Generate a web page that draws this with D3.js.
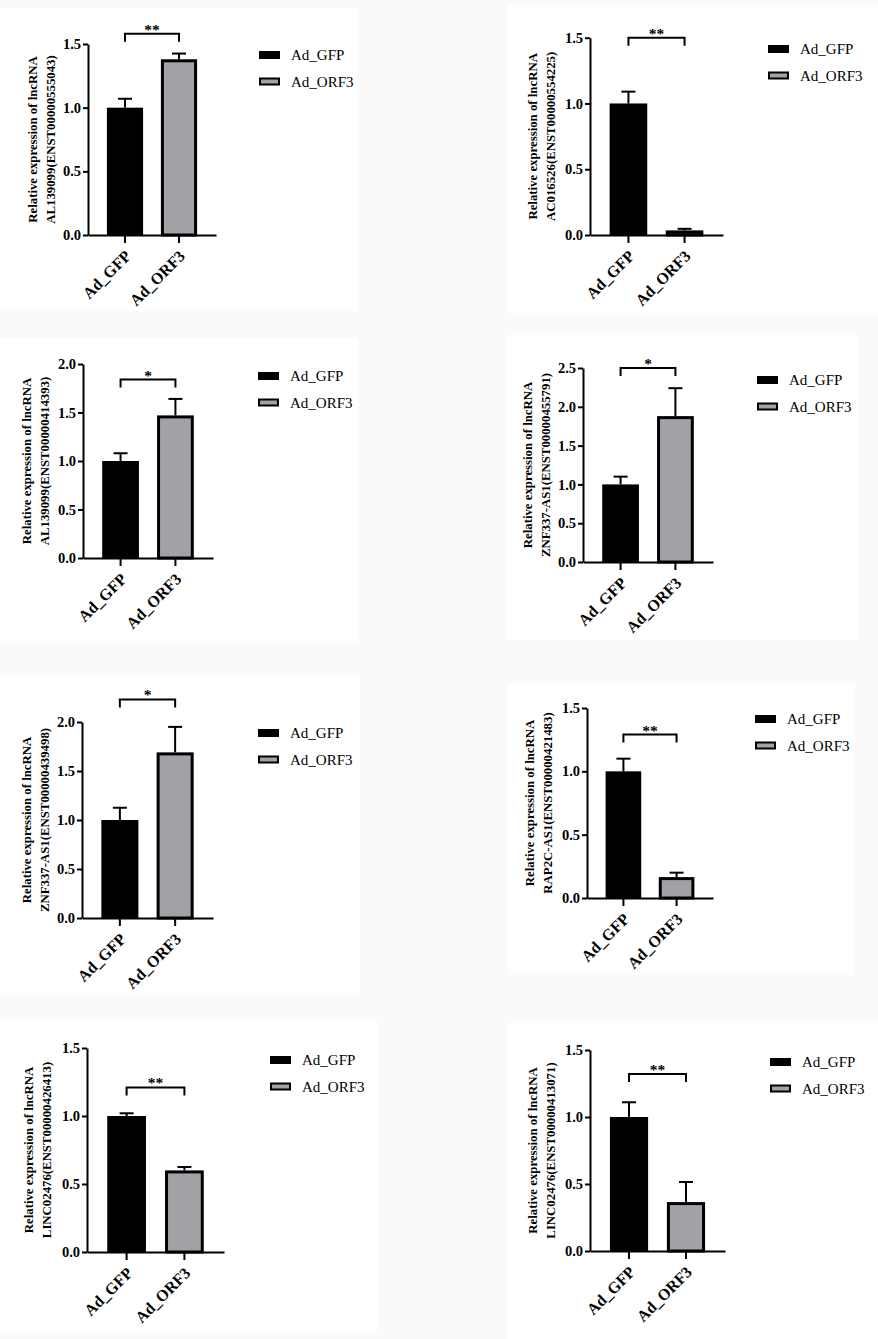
<!DOCTYPE html>
<html>
<head>
<meta charset="utf-8">
<script src="https://cdn.jsdelivr.net/npm/d3@7.9.0/dist/d3.min.js"></script>
<style>
  html, body { margin: 0; padding: 0; background: #fafafa; }
  svg { display: block; }
</style>
</head>
<body>
<svg id="fig" width="878" height="1339"></svg>
<script>
// data
const groups = ['Ad_GFP', 'Ad_ORF3'];
const genes = [
  'AL139099(ENST00000555043)', 'AC016526(ENST00000554225)',
  'AL139099(ENST00000414393)', 'ZNF337-AS1(ENST00000455791)',
  'ZNF337-AS1(ENST00000439498)', 'RAP2C-AS1(ENST00000421483)',
  'LINC02476(ENST00000426413)', 'LINC02476(ENST00000413071)'
];
const gfpMean = [1.0, 1.0, 1.0, 1.0, 1.0, 1.0, 1.0, 1.0];
const gfpErr  = [0.07, 0.09, 0.08, 0.10, 0.125, 0.10, 0.02, 0.11];
const orfMean = [1.38, 0.035, 1.47, 1.88, 1.69, 0.165, 0.60, 0.365];
const orfErr  = [0.045, 0.012, 0.17, 0.36, 0.26, 0.035, 0.025, 0.15];
const yMax    = [1.5, 1.5, 2.0, 2.5, 2.0, 1.5, 1.5, 1.5];
const yStep   = [0.5, 0.5, 0.5, 0.5, 0.5, 0.5, 0.5, 0.5];
const sigText = ['**', '**', '*', '*', '*', '**', '**', '**'];
const sigAt   = [1.58, 1.50, 1.84, 2.50, 2.23, 1.29, 1.21, 1.32];

// where each panel sits on the page
const layout = [
  { bg: [0, 8, 358, 303],    ox: 88,  top: 44,   bottom: 235,  right: 216, lx: 259, ly: 55,   lab: 33 },
  { bg: [508, 5, 370, 308],  ox: 590, top: 37.7, bottom: 235,  right: 723, lx: 768, ly: 49,   lab: 533 },
  { bg: [0, 338, 358, 305],  ox: 83,  top: 364,  bottom: 558,  right: 213, lx: 258, ly: 376,  lab: 27 },
  { bg: [505, 335, 353, 305], ox: 583, top: 368, bottom: 562,  right: 713, lx: 757, ly: 380,  lab: 528 },
  { bg: [0, 675, 360, 318],  ox: 82,  top: 722,  bottom: 918,  right: 213, lx: 258, ly: 733,  lab: 27 },
  { bg: [508, 683, 347, 292], ox: 587, top: 708, bottom: 898,  right: 713, lx: 755, ly: 719,  lab: 530 },
  { bg: [0, 1020, 377, 313], ox: 87,  top: 1048, bottom: 1252, right: 224, lx: 270, ly: 1060, lab: 29 },
  { bg: [508, 1023, 370, 316], ox: 590, top: 1050, bottom: 1251, right: 725, lx: 770, ly: 1062, lab: 533 }
];

const fills = ['#000000', '#a2a2a6'];
const serif = "'Liberation Serif', 'DejaVu Serif', 'Times New Roman', Times, serif";
const svg = d3.select('#fig');

genes.forEach((gene, i) => {
  const L = layout[i];
  const g = svg.append('g').attr('font-family', serif);

  g.append('rect')
    .attr('x', L.bg[0]).attr('y', L.bg[1])
    .attr('width', L.bg[2]).attr('height', L.bg[3])
    .attr('fill', '#ffffff');

  const x = d3.scaleBand().domain(groups).range([L.ox, L.right])
    .paddingInner(0.33).paddingOuter(0.35);
  const y = d3.scaleLinear().domain([0, yMax[i]]).range([L.bottom, L.top]);

  const means = [gfpMean[i], orfMean[i]];
  const errs = [gfpErr[i], orfErr[i]];

  // bars
  groups.forEach((grp, k) => {
    const bx = x(grp), bw = x.bandwidth();
    if (k === 0) {
      g.append('rect')
        .attr('x', bx).attr('y', y(means[k]))
        .attr('width', bw).attr('height', y(0) - y(means[k]))
        .attr('fill', fills[0]);
    } else {
      g.append('rect')
        .attr('x', bx + 1.5).attr('y', y(means[k]) + 1.5)
        .attr('width', bw - 3).attr('height', Math.max(0, y(0) - y(means[k]) - 1.5))
        .attr('fill', fills[1]).attr('stroke', '#000').attr('stroke-width', 3);
    }
    // upper error bar
    const cx = bx + bw / 2;
    g.append('line')
      .attr('x1', cx).attr('x2', cx)
      .attr('y1', y(means[k])).attr('y2', y(means[k] + errs[k]))
      .attr('stroke', '#000').attr('stroke-width', 2);
    g.append('line')
      .attr('x1', cx - 7).attr('x2', cx + 7)
      .attr('y1', y(means[k] + errs[k])).attr('y2', y(means[k] + errs[k]))
      .attr('stroke', '#000').attr('stroke-width', 2);
  });

  // axes
  const yAxis = d3.axisLeft(y)
    .tickValues(d3.range(0, yMax[i] + 1e-6, yStep[i]))
    .tickFormat(d3.format('.1f'))
    .tickSize(5).tickSizeOuter(0).tickPadding(2);
  const ya = g.append('g').attr('transform', `translate(${L.ox},0)`).call(yAxis);

  const xAxis = d3.axisBottom(x).tickSize(8).tickSizeOuter(0);
  const xa = g.append('g').attr('transform', `translate(0,${L.bottom})`).call(xAxis);

  [ya, xa].forEach(a => {
    a.attr('font-family', serif).attr('font-size', null);
    a.select('.domain').attr('stroke', '#000').attr('stroke-width', 2);
    a.selectAll('.tick line').attr('stroke', '#000').attr('stroke-width', 2);
    a.selectAll('text').attr('fill', '#000')
      .attr('font-weight', 'bold').attr('font-size', 14.5);
  });
  xa.selectAll('.tick text')
    .attr('text-anchor', 'end')
    .attr('dy', null).attr('y', null)
    .attr('font-size', 16)
    .attr('transform', 'translate(7,22) rotate(-45)');

  // y label, two lines
  const midY = (L.top + L.bottom) / 2;
  const lab = g.append('text')
    .attr('transform', `translate(${L.lab},${midY}) rotate(-90)`)
    .attr('text-anchor', 'middle')
    .attr('font-weight', 'bold').attr('font-size', 12.8);
  lab.append('tspan').attr('x', 0).attr('y', 4).text('Relative expression of lncRNA');
  lab.append('tspan').attr('x', 0).attr('y', 21.5).text(gene);

  // significance bracket
  const c1 = x(groups[0]) + x.bandwidth() / 2;
  const c2 = x(groups[1]) + x.bandwidth() / 2;
  const by = y(sigAt[i]);
  g.append('path')
    .attr('d', `M${c1},${by + 8}V${by}H${c2}V${by + 8}`)
    .attr('fill', 'none').attr('stroke', '#000').attr('stroke-width', 2);
  g.append('text')
    .attr('x', (c1 + c2) / 2).attr('y', by + 1)
    .attr('text-anchor', 'middle')
    .attr('font-weight', 'bold').attr('font-size', 15.5)
    .text(sigText[i]);

  // legend
  groups.forEach((grp, k) => {
    const ly = L.ly + k * 26.5;
    if (k === 0) {
      g.append('rect').attr('x', L.lx).attr('y', ly - 4).attr('width', 21).attr('height', 8)
        .attr('fill', fills[0]);
    } else {
      g.append('rect').attr('x', L.lx + 1).attr('y', ly - 3).attr('width', 19).attr('height', 6)
        .attr('fill', fills[1]).attr('stroke', '#000').attr('stroke-width', 2);
    }
    g.append('text')
      .attr('x', L.lx + 32).attr('y', ly + 5)
      .attr('font-size', 15).attr('fill', '#000')
      .text(grp);
  });
});
</script>
</body>
</html>
